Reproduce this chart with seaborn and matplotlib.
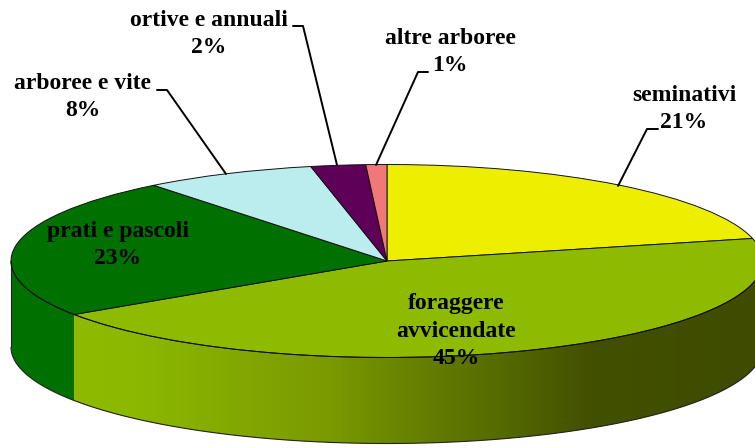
import numpy as np
import seaborn as sns
from matplotlib import pyplot as plt
from matplotlib.colors import LinearSegmentedColormap
from matplotlib.patches import Polygon
from matplotlib.transforms import Affine2D

# data
names = ["seminativi", "foraggere\navvicendate", "prati e pascoli", "arboree e vite", "ortive e annuali", "altre arboree"]
shares = [21.25, 44.4, 23.7, 7.4, 2.35, 0.9]
percent_labels = ["21%", "45%", "23%", "8%", "2%", "1%"]
colors = ["#EEEE00", "#8EBB00", "#007000", "#BBECEE", "#5F0058", "#F07878"]

sns.set_theme(style="white")
plt.rcParams["font.family"] = ["Liberation Serif", "DejaVu Serif"]

W, H = 755, 448
CX, CY, RX, RY, DEPTH = 387, 261, 376, 96.5, 86

f = plt.figure(figsize=(W / 100, H / 100), dpi=100)
ax = f.add_axes([0, 0, 1, 1])

# pixel coordinates, y going down like the picture
px = Affine2D().scale(1, -1).translate(0, H)

# top of the pie, squashed into an ellipse by the axes limits
ax.pie(shares, colors=colors, startangle=90, counterclock=False, radius=1, center=(0, 0),
       wedgeprops={"edgecolor": "#111111", "linewidth": 0.7})

# side wall of the two front slices
depth = DEPTH / RY
edges = 90 - np.cumsum([0] + shares) * 3.6
ramp = LinearSegmentedColormap.from_list("side", [(0, "#8EBB00"), (0.09, "#8CB800"), (0.37, "#7A9A00"),
                                                  (0.47, "#6A8500"), (0.62, "#556A00"), (0.75, "#425000"),
                                                  (1, "#3F4C00")])

for i in range(len(shares)):
    a = np.radians(np.linspace(edges[i + 1], edges[i], 200))
    a = a[np.sin(a) <= 0.0]
    if len(a) == 0:
        continue
    x = np.cos(a)
    y = np.sin(a)
    pts = np.column_stack([np.r_[x, x[::-1]], np.r_[y, y[::-1] - depth]])
    poly = Polygon(pts, closed=True, facecolor=colors[i], edgecolor="none", zorder=0)
    ax.add_patch(poly)
    if i == 1:
        # foraggere gets the light to dark shading
        img = ax.imshow(np.linspace(0, 1, 256)[None, :], cmap=ramp, aspect="auto", zorder=0.5,
                        extent=(x.min(), x.max(), -1 - depth, 0))
        img.set_clip_path(poly)
    ax.plot(x, y - depth, color="#222222", lw=0.8, zorder=1)
    ax.plot(x, y, color="#111111", lw=0.7, zorder=3)

ax.set_aspect("auto")
ax.set_xlim(-CX / RX, (W - CX) / RX)
ax.set_ylim((CY - H) / RY, CY / RY)
ax.axis("off")

# left edge of the wall
ax.plot([-1, -1], [0, -depth], color="#222222", lw=0.8, zorder=1)

# labels
label_pos = [(684, 109), (456, 331), (118, 245), (83, 97), (209, 34), (450, 52)]
for name, pct, pos in zip(names, percent_labels, label_pos):
    ax.text(pos[0], pos[1], name + "\n" + pct, transform=px,
            ha="center", va="center", fontsize=17, fontweight="bold", color="black", linespacing=1.42, zorder=5)

# leader lines
leaders = [
    ([658, 647, 618], [129, 129, 186]),
    ([157, 167, 226], [90, 90, 174]),
    ([293, 303, 337], [26, 26, 165]),
    ([428, 418, 376], [72, 72, 165]),
]
for lx, ly in leaders:
    ax.plot(lx, ly, color="black", lw=1.4, transform=px, zorder=4, clip_on=False)

f.savefig("out.png", dpi=100)
